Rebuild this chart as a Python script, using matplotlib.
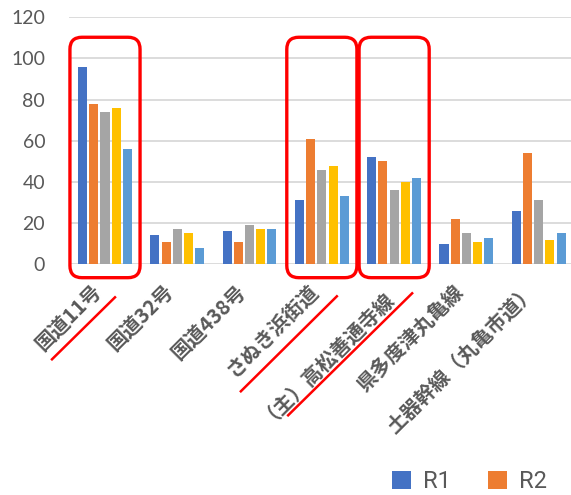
import matplotlib.pyplot as plt
import numpy as np
from matplotlib.patches import FancyBboxPatch
from matplotlib.lines import Line2D
from matplotlib.transforms import IdentityTransform, ScaledTranslation

plt.rcParams['font.family'] = ['Noto Sans CJK JP', 'DejaVu Sans']

categories = ['国道11号', '国道32号', '国道438号', 'さぬき浜街道',
              '（主）高松善通寺線', '県多度津丸亀線', '土器幹線（丸亀市道）']
series_names = ['R1', 'R2', 'R3', 'R4', 'R5']
r1 = [96, 14, 16, 31, 52, 10, 26]
r2 = [78, 11, 11, 61, 50, 22, 54]
r3 = [74, 17, 19, 46, 36, 15, 31]
r4 = [76, 15, 17, 48, 40, 11, 12]
r5 = [56, 8, 17, 33, 42, 13, 15]
highlighted = [0, 3, 4]

colors = ['#4472C4', '#ED7D31', '#A5A5A5', '#FFC000', '#5B9BD5']
gray = '#595959'

W, H = 571, 495
fig = plt.figure(figsize=(W / 100, H / 100), dpi=100)
ax = fig.add_axes([68.85 / W, (H - 264.3) / H, 506 / W, 247 / H])

x = np.arange(len(categories))
pitch = 0.155
width = 0.125
bars = []
for j, vals in enumerate([r1, r2, r3, r4, r5]):
    b = ax.bar(x + (j - 2) * pitch, vals, width, color=colors[j], label=series_names[j], zorder=3)
    bars.append(b)

ax.set_xlim(-0.5, len(categories) - 0.5)
ax.set_ylim(0, 120)
ax.set_yticks(range(0, 121, 20))
ax.yaxis.grid(True, color='#D9D9D9', linewidth=1.3, zorder=0)
for s in ax.spines.values():
    s.set_visible(False)
ax.tick_params(axis='y', length=0, pad=17, labelsize=14, labelcolor=gray)
for t in ax.get_yticklabels():
    t.set_family('Lato')
ax.set_xticks(x)
ax.set_xticklabels(categories, rotation=45, ha='right', va='center',
                   rotation_mode='anchor', fontsize=14.5, color=gray, fontweight='bold')
ax.tick_params(axis='x', length=0, pad=0)
# shift labels down and slightly left of each category
shift = ScaledTranslation(-0.07, -0.235, fig.dpi_scale_trans)
for t in ax.get_xticklabels():
    t.set_transform(t.get_transform() + shift)

# only the first two legend entries are visible in the cropped original
leg = fig.legend(bars[:2], series_names[:2], loc='center left',
                 bbox_to_anchor=(392 / W, 1 - 482 / H), ncol=2,
                 frameon=False, fontsize=17, handlelength=0.8, handleheight=0.8,
                 handletextpad=0.5, columnspacing=1.6, borderpad=0, borderaxespad=0)
for t in leg.get_texts():
    t.set_color(gray)
    t.set_family('Roboto')

# red highlight boxes and underlines, in pixel space
fig.canvas.draw()
underline = {0: ((-53, 95), (10, 33)), 3: ((-81, 127), (15, 32)), 4: ((-106, 151), (18, 29))}
for i in highlighted:
    x0, y0 = ax.transData.transform((i - 0.485, -6.5))
    x1, y1 = ax.transData.transform((i + 0.485, 110.3))
    box = FancyBboxPatch((x0, y0), x1 - x0, y1 - y0,
                         boxstyle='round,pad=0,rounding_size=12',
                         transform=IdentityTransform(), fill=False,
                         edgecolor='#FF0000', linewidth=2.4, zorder=10)
    fig.patches.append(box)
    cx, cy = ax.transData.transform((i, 0))
    (sx, sy), (ex, ey) = underline[i]
    fig.lines.append(Line2D([cx + sx, cx + ex], [cy - sy, cy - ey],
                            transform=IdentityTransform(), color='#FF0000', linewidth=1.8))

fig.savefig('out.png', dpi=100)
